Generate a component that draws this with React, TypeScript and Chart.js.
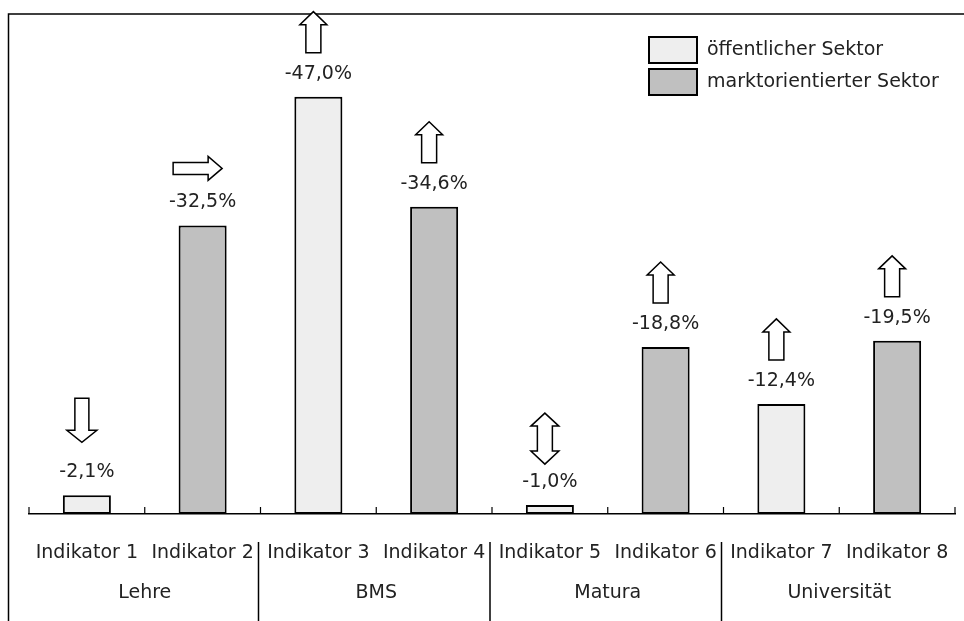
import { useEffect, useRef } from "react";
import { Chart, registerables } from "chart.js";

Chart.register(...registerables);

// ---- data ----
const indicators = [
  "Indikator 1", "Indikator 2", "Indikator 3", "Indikator 4",
  "Indikator 5", "Indikator 6", "Indikator 7", "Indikator 8",
];
const groups = ["Lehre", "BMS", "Matura", "Universität"];
const changes = [-2.1, -32.5, -47.0, -34.6, -1.0, -18.8, -12.4, -19.5];
const publicSector = [2.1, null, 47.0, null, 1.0, null, 12.4, null];
const marketSector = [null, 32.5, null, 34.6, null, 18.8, null, 19.5];
const trends = ["down", "right", "up", "up", "both", "up", "up", "up"];
const seriesNames = ["öffentlicher Sektor", "marktorientierter Sektor"];

// ---- styles ----
const FONT = "DejaVu Sans";
const FONT_SIZE = 19;
const TEXT_COLOR = "#222";
const LIGHT = "#eeeeee";
const DARK = "#c0c0c0";

function arrowPath(ctx: CanvasRenderingContext2D, type: string, cx: number, labelY: number) {
  ctx.beginPath();
  if (type === "up") {
    const bottom = labelY - 21, h = 41, w = 27, s = 15, hh = 13;
    const top = bottom - h;
    ctx.moveTo(cx, top);
    ctx.lineTo(cx + w / 2, top + hh);
    ctx.lineTo(cx + s / 2, top + hh);
    ctx.lineTo(cx + s / 2, bottom);
    ctx.lineTo(cx - s / 2, bottom);
    ctx.lineTo(cx - s / 2, top + hh);
    ctx.lineTo(cx - w / 2, top + hh);
  } else if (type === "down") {
    const top = labelY - 74, h = 44, w = 30, s = 14, hh = 12;
    const bottom = top + h;
    ctx.moveTo(cx - s / 2, top);
    ctx.lineTo(cx + s / 2, top);
    ctx.lineTo(cx + s / 2, bottom - hh);
    ctx.lineTo(cx + w / 2, bottom - hh);
    ctx.lineTo(cx, bottom);
    ctx.lineTo(cx - w / 2, bottom - hh);
    ctx.lineTo(cx - s / 2, bottom - hh);
  } else if (type === "both") {
    const bottom = labelY - 18, h = 51, w = 28, s = 15, hh = 13;
    const top = bottom - h;
    ctx.moveTo(cx, top);
    ctx.lineTo(cx + w / 2, top + hh);
    ctx.lineTo(cx + s / 2, top + hh);
    ctx.lineTo(cx + s / 2, bottom - hh);
    ctx.lineTo(cx + w / 2, bottom - hh);
    ctx.lineTo(cx, bottom);
    ctx.lineTo(cx - w / 2, bottom - hh);
    ctx.lineTo(cx - s / 2, bottom - hh);
    ctx.lineTo(cx - s / 2, top + hh);
    ctx.lineTo(cx - w / 2, top + hh);
  } else if (type === "right") {
    const cy = labelY - 34, len = 49, w = 24, s = 12, hl = 14;
    const left = cx - len / 2, right = cx + len / 2;
    ctx.moveTo(left, cy - s / 2);
    ctx.lineTo(right - hl, cy - s / 2);
    ctx.lineTo(right - hl, cy - w / 2);
    ctx.lineTo(right, cy);
    ctx.lineTo(right - hl, cy + w / 2);
    ctx.lineTo(right - hl, cy + s / 2);
    ctx.lineTo(left, cy + s / 2);
  }
  ctx.closePath();
}

const decorPlugin = {
  id: "decor",
  beforeDraw(chart: any) {
    const ctx = chart.ctx as CanvasRenderingContext2D;
    ctx.save();
    ctx.strokeStyle = "#000";
    ctx.lineWidth = 1.5;
    ctx.beginPath();
    ctx.moveTo(8.5, chart.height);
    ctx.lineTo(8.5, 14);
    ctx.lineTo(chart.width, 14);
    ctx.stroke();
    ctx.restore();
  },
  afterDraw(chart: any) {
    const ctx = chart.ctx as CanvasRenderingContext2D;
    const xs = chart.scales.x;
    const area = chart.chartArea;
    const n = indicators.length;
    const centers = indicators.map((_, i) => xs.getPixelForValue(i));
    const bounds: number[] = [xs.left];
    for (let i = 1; i < n; i++) bounds.push((centers[i - 1] + centers[i]) / 2);
    bounds.push(xs.right);

    ctx.save();
    ctx.strokeStyle = "#000";
    ctx.lineWidth = 1.2;
    // inward tick marks
    bounds.forEach((bx) => {
      ctx.beginPath();
      ctx.moveTo(bx, area.bottom - 7);
      ctx.lineTo(bx, area.bottom);
      ctx.stroke();
    });
    // group separators
    ctx.lineWidth = 1.5;
    for (let g = 1; g < groups.length; g++) {
      const bx = bounds[g * 2] - 2;
      ctx.beginPath();
      ctx.moveTo(bx, area.bottom + 28);
      ctx.lineTo(bx, chart.height);
      ctx.stroke();
    }

    // value labels + arrows
    ctx.font = `${FONT_SIZE}px "${FONT}"`;
    ctx.fillStyle = TEXT_COLOR;
    ctx.textAlign = "center";
    ctx.textBaseline = "middle";
    for (let i = 0; i < n; i++) {
      const dsIndex = publicSector[i] !== null ? 0 : 1;
      const bar = chart.getDatasetMeta(dsIndex).data[i];
      const labelY = bar.y - 23;
      ctx.fillStyle = TEXT_COLOR;
      ctx.fillText(changes[i].toFixed(1).replace(".", ",") + "%", bar.x, labelY);
      arrowPath(ctx, trends[i], bar.x - 5, labelY);
      ctx.fillStyle = "#fff";
      ctx.fill();
      ctx.lineWidth = 1.5;
      ctx.strokeStyle = "#000";
      ctx.stroke();
    }

    // legend
    const lx = 649, ly = 37, bw = 48, bh = 26, gap = 32;
    chart.data.datasets.forEach((ds: any, k: number) => {
      const y = ly + k * gap;
      ctx.fillStyle = ds.backgroundColor;
      ctx.fillRect(lx, y, bw, bh);
      ctx.lineWidth = 2;
      ctx.strokeStyle = "#000";
      ctx.strokeRect(lx, y, bw, bh);
      ctx.fillStyle = TEXT_COLOR;
      ctx.textAlign = "left";
      ctx.fillText(ds.label, lx + 58, y + bh / 2);
    });
    ctx.restore();
  },
};

export default function App() {
  const ref = useRef<HTMLCanvasElement | null>(null);
  useEffect(() => {
    if (!ref.current) return;
    const tickFont = { family: FONT, size: FONT_SIZE };
    const chart = new Chart(ref.current, {
      type: "bar",
      data: {
        labels: indicators,
        datasets: [
          {
            label: seriesNames[0],
            data: publicSector,
            backgroundColor: LIGHT,
            borderColor: "#000",
            borderWidth: 2,
            borderSkipped: false,
            skipNull: true,
          } as any,
          {
            label: seriesNames[1],
            data: marketSector,
            backgroundColor: DARK,
            borderColor: "#000",
            borderWidth: 2,
            borderSkipped: false,
            skipNull: true,
          } as any,
        ],
      },
      options: {
        animation: false,
        responsive: false,
        devicePixelRatio: 1,
        datasets: { bar: { categoryPercentage: 1, barPercentage: 0.415 } },
        layout: { padding: { left: 29, right: 9, top: 70, bottom: 11 } },
        plugins: { legend: { display: false }, tooltip: { enabled: false } },
        scales: {
          x: {
            type: "category",
            offset: true,
            weight: 0,
            grid: { display: false, drawTicks: true, tickLength: 25 },
            border: { display: true, color: "#000", width: 1.5 },
            ticks: { font: tickFont, color: TEXT_COLOR, padding: 3, autoSkip: false, maxRotation: 0 },
            afterFit: (s: any) => { s.height = 56; },
          },
          x2: {
            type: "category",
            labels: groups,
            offset: true,
            position: "bottom",
            weight: 1,
            grid: { display: false, drawTicks: true, tickLength: 9 },
            border: { display: false },
            ticks: { font: tickFont, color: TEXT_COLOR, padding: 3, autoSkip: false, maxRotation: 0 },
            afterFit: (s: any) => { s.height = 40; },
          },
          y: { display: false, min: 0, max: 50 },
        },
      } as any,
      plugins: [decorPlugin],
    });
    return () => chart.destroy();
  }, []);
  return (
    <div style={{ position: "fixed", left: 0, top: 0, width: 964, height: 621, background: "#fff" }}>
      <canvas ref={ref} width={964} height={621} style={{ display: "block" }} />
    </div>
  );
}
